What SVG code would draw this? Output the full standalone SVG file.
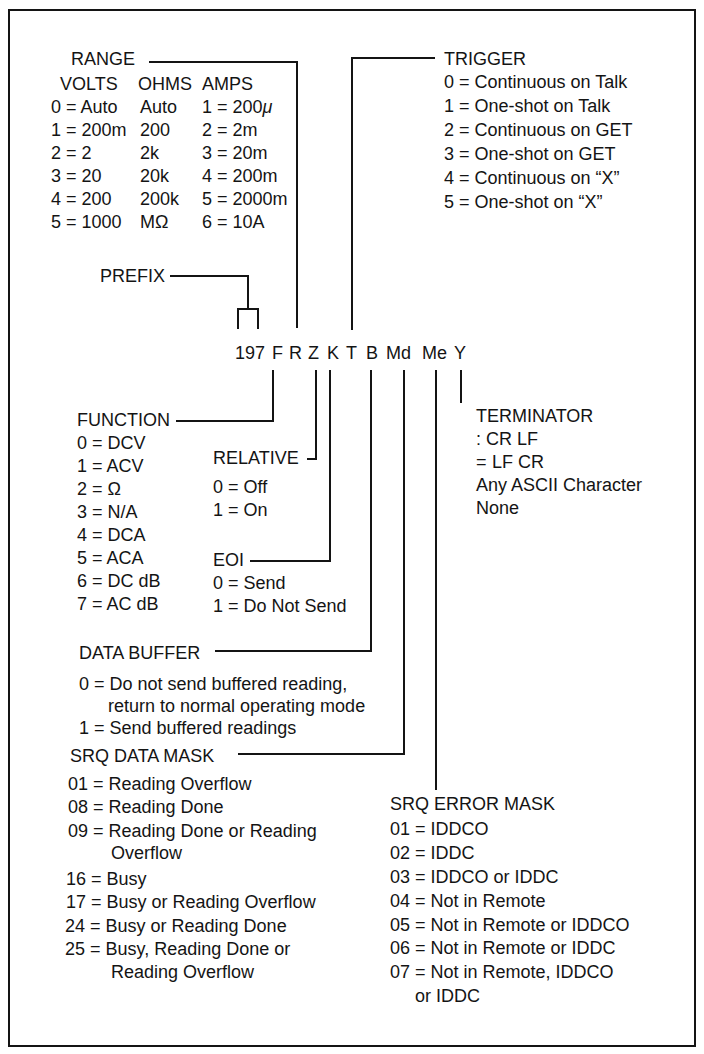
<svg xmlns="http://www.w3.org/2000/svg" width="704" height="1054" viewBox="0 0 704 1054">
<style>
text{font-family:"Liberation Sans",Arial,Helvetica,sans-serif;font-size:18px;fill:#141414}
.ln{fill:none;stroke:#141414;stroke-width:2}
</style>
<rect x="0" y="0" width="704" height="1054" fill="#fff"/>
<rect x="9" y="10" width="686" height="1036" class="ln"/>
<g id="connectors">
<path class="ln" d="M149 62H297V328"/>
<path class="ln" d="M435 58H352V330"/>
<path class="ln" d="M170 276H248V309M238 329V309H258V329"/>
<path class="ln" d="M273 370V421H176"/>
<path class="ln" d="M316 370V459H307"/>
<path class="ln" d="M330 370V561H250"/>
<path class="ln" d="M371 370V651H215"/>
<path class="ln" d="M404 370V754H238"/>
<path class="ln" d="M436 370V790"/>
<path class="ln" d="M461 370V403"/>
</g>
<g id="code">
<text y="359"><tspan x="235">197</tspan><tspan x="272">F</tspan><tspan x="289">R</tspan><tspan x="308">Z</tspan><tspan x="327">K</tspan><tspan x="346">T</tspan><tspan x="366">B</tspan><tspan x="386">Md</tspan><tspan x="422">Me</tspan><tspan x="454">Y</tspan></text>
</g>
<g id="range">
<text x="71" y="65">RANGE</text>
<text x="60" y="90">VOLTS</text>
<text x="138" y="90">OHMS</text>
<text x="202" y="90">AMPS</text>
<text x="51" y="113">0 = Auto</text>
<text x="51" y="136">1 = 200m</text>
<text x="51" y="159">2 = 2</text>
<text x="51" y="182">3 = 20</text>
<text x="51" y="205">4 = 200</text>
<text x="51" y="228">5 = 1000</text>
<text x="140" y="113">Auto</text>
<text x="140" y="136">200</text>
<text x="140" y="159">2k</text>
<text x="140" y="182">20k</text>
<text x="140" y="205">200k</text>
<text x="140" y="228">MΩ</text>
<text x="202" y="113">1 = 200<tspan font-style="italic">μ</tspan></text>
<text x="202" y="136">2 = 2m</text>
<text x="202" y="159">3 = 20m</text>
<text x="202" y="182">4 = 200m</text>
<text x="202" y="205">5 = 2000m</text>
<text x="202" y="228">6 = 10A</text>
</g>
<g id="trigger">
<text x="444" y="65">TRIGGER</text>
<text x="444" y="88">0 = Continuous on Talk</text>
<text x="444" y="112">1 = One-shot on Talk</text>
<text x="444" y="136">2 = Continuous on GET</text>
<text x="444" y="160">3 = One-shot on GET</text>
<text x="444" y="184">4 = Continuous on “X”</text>
<text x="444" y="208">5 = One-shot on “X”</text>
</g>
<g id="prefix">
<text x="100" y="282">PREFIX</text>
</g>
<g id="function">
<text x="77" y="426">FUNCTION</text>
<text x="77" y="449">0 = DCV</text>
<text x="77" y="472">1 = ACV</text>
<text x="77" y="495">2 = Ω</text>
<text x="77" y="518">3 = N/A</text>
<text x="77" y="541">4 = DCA</text>
<text x="77" y="564">5 = ACA</text>
<text x="77" y="587">6 = DC dB</text>
<text x="77" y="610">7 = AC dB</text>
</g>
<g id="relative">
<text x="213" y="464">RELATIVE</text>
<text x="213" y="493">0 = Off</text>
<text x="213" y="516">1 = On</text>
</g>
<g id="eoi">
<text x="213" y="566">EOI</text>
<text x="213" y="589">0 = Send</text>
<text x="213" y="612">1 = Do Not Send</text>
</g>
<g id="terminator">
<text x="476" y="422">TERMINATOR</text>
<text x="476" y="445">: CR LF</text>
<text x="476" y="468">=<tspan x="492">LF CR</tspan></text>
<text x="476" y="491">Any ASCII Character</text>
<text x="476" y="514">None</text>
</g>
<g id="data-buffer">
<text x="79" y="659">DATA BUFFER</text>
<text x="79" y="690">0 = Do not send buffered reading,</text>
<text x="108" y="712">return to normal operating mode</text>
<text x="79" y="734">1 = Send buffered readings</text>
</g>
<g id="srq-data-mask">
<text x="70" y="762">SRQ DATA MASK</text>
<text x="68" y="790">01 = Reading Overflow</text>
<text x="68" y="813">08 = Reading Done</text>
<text x="68" y="837">09 = Reading Done or Reading</text>
<text x="111" y="859">Overflow</text>
<text x="66" y="885">16 = Busy</text>
<text x="66" y="908">17 = Busy or Reading Overflow</text>
<text x="65" y="932">24 = Busy or Reading Done</text>
<text x="65" y="955">25 = Busy, Reading Done or</text>
<text x="111" y="978">Reading Overflow</text>
</g>
<g id="srq-error-mask">
<text x="390" y="810">SRQ ERROR MASK</text>
<text x="390" y="835">01 = IDDCO</text>
<text x="390" y="859">02 = IDDC</text>
<text x="390" y="883">03 = IDDCO or IDDC</text>
<text x="390" y="907">04 = Not in Remote</text>
<text x="390" y="931">05 = Not in Remote or IDDCO</text>
<text x="390" y="954">06 = Not in Remote or IDDC</text>
<text x="390" y="978">07 = Not in Remote, IDDCO</text>
<text x="415" y="1002">or IDDC</text>
</g>
</svg>
